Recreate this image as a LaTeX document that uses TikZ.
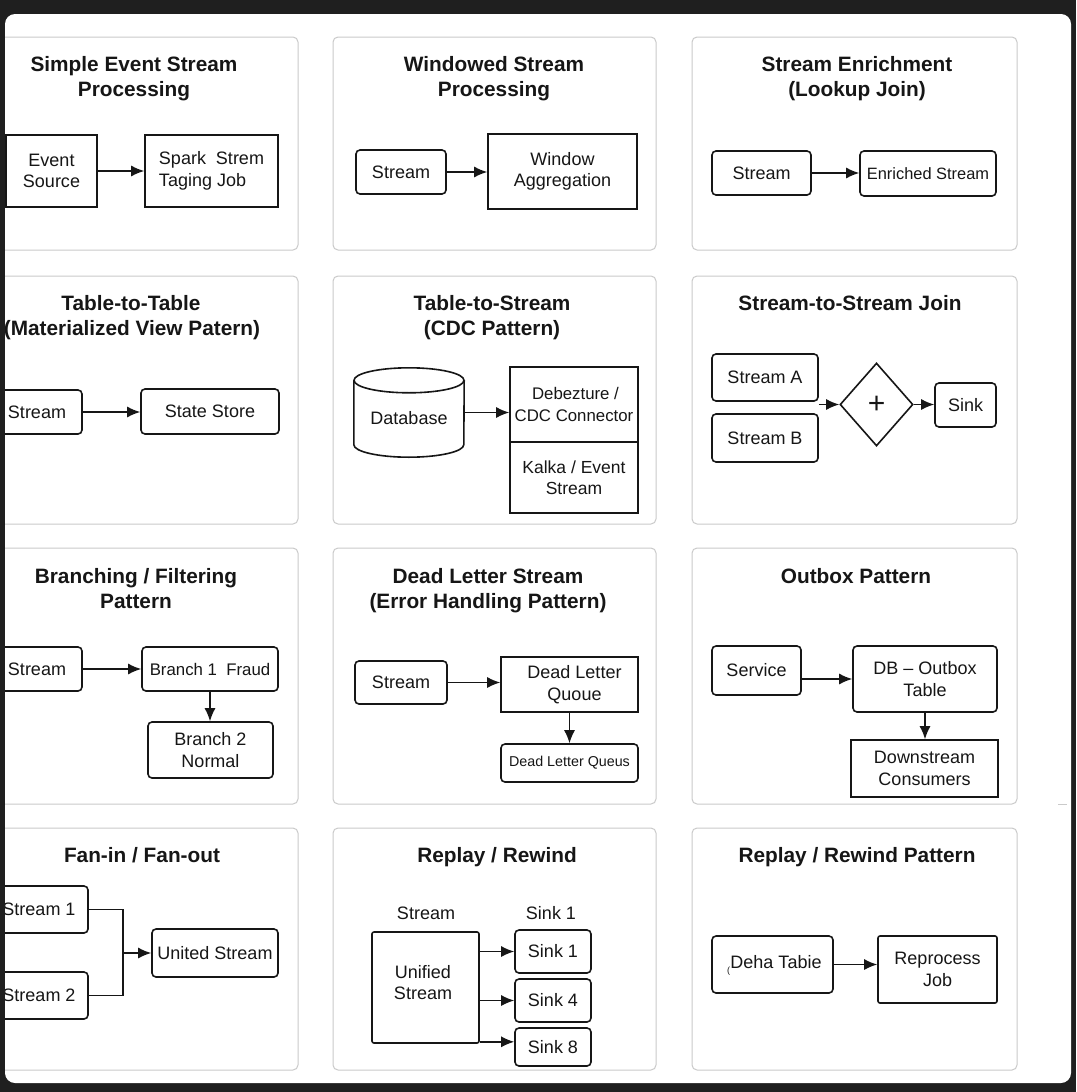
\documentclass[tikz,border=0pt]{standalone}
\usepackage{fontspec}
\setmainfont{Liberation Sans}
\usetikzlibrary{arrows.meta,shapes.geometric,calc}
\definecolor{bgdark}{HTML}{1F1F1F}
\definecolor{panelgray}{HTML}{CACACA}
\definecolor{ink}{HTML}{161616}
\begin{document}
\begin{tikzpicture}[x=1pt,y=-1pt,
  panel/.style={draw=panelgray, line width=1pt, rounded corners=5pt, fill=white},
  box/.style={draw=ink, line width=1.6pt, fill=white, inner sep=0pt, text=ink, align=center, font=\fontsize{18}{21.5}\selectfont},
  rbox/.style={box, rounded corners=4pt},
  ttl/.style={anchor=base, text=ink, inner sep=0pt, font=\fontsize{20.8}{25}\selectfont\bfseries},
  lbl/.style={text=ink, inner sep=0pt, font=\fontsize{18}{21.5}\selectfont},
  arr/.style={draw=ink, line width=1.4pt, -{Latex[length=13pt,width=11pt]}},
  link/.style={draw=ink, line width=1.4pt},
  cyl/.style={draw=ink, line width=1.6pt, fill=white}
]
\useasboundingbox (0,0) rectangle (1076,1092);
\fill[bgdark] (0,0) rectangle (1076,1092);
\fill[white, rounded corners=10pt] (5,14) rectangle (1071,1083);
\begin{scope}
\clip[rounded corners=10pt] (5,14) rectangle (1071,1083);

% panels
\draw[panel] (-26,37) rectangle (298,250);
\draw[panel] (333,37) rectangle (656,250);
\draw[panel] (692,37) rectangle (1017,250);
\draw[panel] (-26,276) rectangle (298,524);
\draw[panel] (333,276) rectangle (656,524);
\draw[panel] (692,276) rectangle (1017,524);
\draw[panel] (-26,548) rectangle (298,804);
\draw[panel] (333,548) rectangle (656,804);
\draw[panel] (692,548) rectangle (1017,804);
\draw[panel] (-26,828) rectangle (298,1070);
\draw[panel] (333,828) rectangle (656,1070);
\draw[panel] (692,828) rectangle (1017,1070);

% ---- Panel 1
\node[ttl] (t1a) at (134,71) {Simple Event Stream};
\node[ttl] (t1b) at (134,96) {Processing};
\node[box, minimum width=91pt, minimum height=72pt] (ev) at (51.5,171) {Event\\Source};
\node[box, minimum width=133pt, minimum height=72pt, align=left] (spark) at (211.5,171) {Spark~ Strem\\Taging Job};
\draw[arr] (ev.east) -- (spark.west);

% ---- Panel 2
\node[ttl] (t2a) at (494,71) {Windowed Stream};
\node[ttl] (t2b) at (494,96) {Processing};
\node[rbox, minimum width=90pt, minimum height=44pt] (st2) at (401,172) {Stream};
\node[box, minimum width=149pt, minimum height=75pt] (win) at (562.5,171.5) {Window\\Aggregation};
\draw[arr] (st2.east) -- (st2.east -| win.west);

% ---- Panel 3
\node[ttl] (t3a) at (857,71) {Stream Enrichment};
\node[ttl] (t3b) at (857,96) {(Lookup Join)};
\node[rbox, minimum width=99pt, minimum height=44pt] (st3) at (761.5,173) {Stream};
\node[rbox, minimum width=136pt, minimum height=45pt, font=\fontsize{16.4}{20}\selectfont] (enr) at (928,173.5) {Enriched Stream};
\draw[arr] (st3.east) -- (st3.east -| enr.west);

% ---- Panel 4
\node[ttl] (t4a) at (131,310) {Table-to-Table};
\node[ttl] (t4b) at (132,335) {(Materialized View Patern)};
\node[rbox, minimum width=90pt, minimum height=44pt] (st4) at (37,412) {Stream};
\node[rbox, minimum width=138pt, minimum height=45pt] (state) at (210,411.5) {State Store};
\draw[arr] (st4.east) -- (st4.east -| state.west);

% ---- Panel 5
\node[ttl] (t5a) at (492,310) {Table-to-Stream};
\node[ttl] (t5b) at (492,335) {(CDC Pattern)};
\node[minimum width=110pt, minimum height=89pt, inner sep=0pt] (db) at (409,412.5) {};
\draw[cyl] ([yshift=-12.5pt]db.north west) -- ([yshift=12.5pt]db.south west)
   arc[start angle=180, end angle=360, x radius=55pt, y radius=12.5pt]
   -- ([yshift=-12.5pt]db.north east);
\draw[cyl] ([yshift=-12.5pt]db.north) ellipse[x radius=55pt, y radius=12.5pt];
\node[lbl] (dbl) at (409,418) {Database};
\node[box, minimum width=128pt, minimum height=75pt, font=\fontsize{16.8}{21.5}\selectfont] (cdc) at (574,404.5) {\hspace*{3pt}Debezture /\\CDC Connector};
\node[box, minimum width=128pt, minimum height=71pt, font=\fontsize{17.5}{21.5}\selectfont] (kafka) at (574,477.5) {Kalka / Event\\Stream};
\draw[arr] (db.east) -- (db.east -| cdc.west);

% ---- Panel 6
\node[ttl] (t6a) at (850,310) {Stream-to-Stream Join};
\node[rbox, minimum width=106pt, minimum height=47pt] (sa) at (765,377.5) {Stream A};
\node[rbox, minimum width=106pt, minimum height=48pt] (sb) at (765,438) {Stream B};
\node[draw=ink, line width=1.6pt, fill=white, diamond, minimum width=73pt, minimum height=83pt,
      inner sep=0pt, font=\fontsize{30}{30}\selectfont, text=ink] (dia) at (876.5,404.5) {+};
\node[rbox, minimum width=61pt, minimum height=44pt] (sink) at (965.5,405) {Sink};
\draw[arr] (sa.south east |- dia.west) -- (dia.west);
\draw[arr] (dia.east) -- (dia.east -| sink.west);

% ---- Panel 7
\node[ttl] (t7a) at (136,583) {Branching / Filtering};
\node[ttl] (t7b) at (136,608) {Pattern};
\node[rbox, minimum width=90pt, minimum height=44pt] (st7) at (37,669) {Stream};
\node[rbox, minimum width=136pt, minimum height=44pt, font=\fontsize{16.8}{21}\selectfont] (b1) at (210,669) {Branch 1~ Fraud};
\node[rbox, minimum width=125pt, minimum height=56pt] (b2) at (210.5,750) {Branch 2\\Normal};
\draw[arr] (st7.east) -- (b1.west);
\draw[arr] (b1.south) -- (b1.south |- b2.north);

% ---- Panel 8
\node[ttl] (t8a) at (488,583) {Dead Letter Stream};
\node[ttl] (t8b) at (488,608) {(Error Handling Pattern)};
\node[rbox, minimum width=92pt, minimum height=43pt] (st8) at (401,682.5) {Stream};
\node[box, minimum width=137pt, minimum height=55pt] (dlq) at (569.5,684.5) {\hspace*{10pt}Dead Letter\\\hspace*{10pt}Quoue};
\node[rbox, minimum width=137pt, minimum height=38pt, font=\fontsize{14.3}{18}\selectfont] (dlq2) at (569.5,763) {Dead Letter Queus};
\draw[arr] (st8.east) -- (st8.east -| dlq.west);
\draw[arr] (dlq.south) -- (dlq.south |- dlq2.north);

% ---- Panel 9
\node[ttl] (t9a) at (856,583) {Outbox Pattern};
\node[rbox, minimum width=89pt, minimum height=49pt] (svc) at (756.5,670.5) {Service};
\node[rbox, minimum width=144pt, minimum height=66pt] (db2) at (925,679) {DB -- Outbox\\Table};
\node[box, minimum width=147pt, minimum height=57pt] (down) at (924.5,768.5) {Downstream\\Consumers};
\draw[arr] (svc.east |- db2.west) -- (db2.west);
\draw[arr] (db2.south) -- (db2.south |- down.north);
\draw[panelgray, line width=1pt] (1058,804) -- (1067,804);

% ---- Panel 10
\node[ttl] (t10a) at (142,862) {Fan-in / Fan-out};
\node[rbox, minimum width=98pt, minimum height=47pt] (s1) at (39,909.5) {Stream 1};
\node[rbox, minimum width=98pt, minimum height=47pt] (s2) at (39,995.5) {Stream 2};
\node[rbox, minimum width=126pt, minimum height=48pt] (united) at (215,953) {United Stream};
\coordinate (j) at (123,953);
\draw[link] (s1.east) -| (j) |- (s2.east);
\draw[arr] (j) -- (united.west);

% ---- Panel 11
\node[ttl] (t11a) at (497,862) {Replay / Rewind};
\node[lbl] (lbls) at (426,913) {Stream};
\node[lbl] (lblk) at (551,913) {Sink 1};
\node[box, rounded corners=2pt, minimum width=107pt, minimum height=111pt] (uni) at (425.5,987.5) {};
\node[lbl, align=center] (unil) at (423,982.5) {Unified\\Stream};
\node[rbox, minimum width=76pt, minimum height=43pt] (k1) at (553,951.5) {Sink 1};
\node[rbox, minimum width=76pt, minimum height=43pt] (k4) at (553,1000.5) {Sink 4};
\node[rbox, minimum width=76pt, minimum height=38pt] (k8) at (553,1047) {Sink 8};
\draw[arr] (uni.east |- k1.west) -- (k1.west);
\draw[arr] (uni.east |- k4.west) -- (k4.west);
\draw[arr] ([yshift=2pt]uni.south east) -- ([yshift=2pt]uni.south east -| k8.west);

% ---- Panel 12
\node[ttl] (t12a) at (857,862) {Replay / Rewind Pattern};
\node[rbox, minimum width=121pt, minimum height=57pt] (dt) at (772.5,964.5) {};
\node[lbl] (dtl) at (776,962) {Deha Tabie};
\node[lbl, font=\fontsize{9}{9}\selectfont] (dtc) at (728.5,971) {(};
\node[box, rounded corners=2pt, minimum width=119pt, minimum height=67pt] (rp) at (937.5,969.5) {Reprocess\\Job};
\draw[arr] (dt.east) -- (dt.east -| rp.west);

\end{scope}
\end{tikzpicture}
\end{document}
